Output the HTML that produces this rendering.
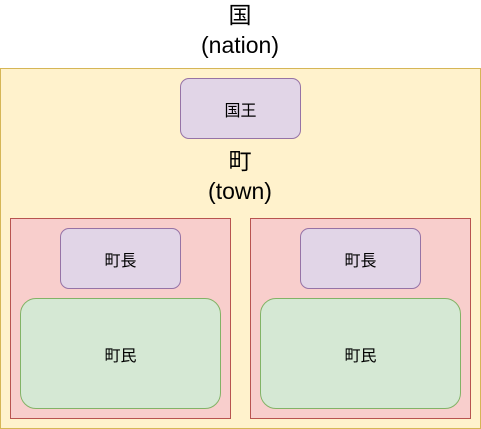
<!DOCTYPE html>
<html><head><meta charset="utf-8"><style>
body{margin:0;width:481px;height:429px;background:#fff;position:relative;overflow:hidden;font-family:"Liberation Sans","Noto Sans CJK JP",sans-serif;}
.b{position:absolute;box-sizing:border-box;display:flex;align-items:center;justify-content:center;font-size:16px;color:#000;}
.t{position:absolute;width:200px;text-align:center;font-size:23px;line-height:30px;color:#000;}
</style></head><body>
<div class="t" style="left:140px;top:0px">国<br>(nation)</div>
<div class="b" style="left:0;top:68px;width:481px;height:361px;background:#fff2cc;border:1px solid #d6b656"></div>
<div class="b" style="left:180px;top:78px;width:121px;height:61px;background:#e1d5e7;border:1px solid #9673a6;border-radius:9px">国王</div>
<div class="t" style="left:140px;top:146px">町<br>(town)</div>
<div class="b" style="left:10px;top:218px;width:221px;height:201px;background:#f8cecc;border:1px solid #b85450"></div>
<div class="b" style="left:250px;top:218px;width:221px;height:201px;background:#f8cecc;border:1px solid #b85450"></div>
<div class="b" style="left:60px;top:228px;width:121px;height:61px;background:#e1d5e7;border:1px solid #9673a6;border-radius:9px">町長</div>
<div class="b" style="left:300px;top:228px;width:121px;height:61px;background:#e1d5e7;border:1px solid #9673a6;border-radius:9px">町長</div>
<div class="b" style="left:20px;top:298px;width:201px;height:111px;background:#d5e8d4;border:1px solid #82b366;border-radius:16px">町民</div>
<div class="b" style="left:260px;top:298px;width:201px;height:111px;background:#d5e8d4;border:1px solid #82b366;border-radius:16px">町民</div>
</body></html>
